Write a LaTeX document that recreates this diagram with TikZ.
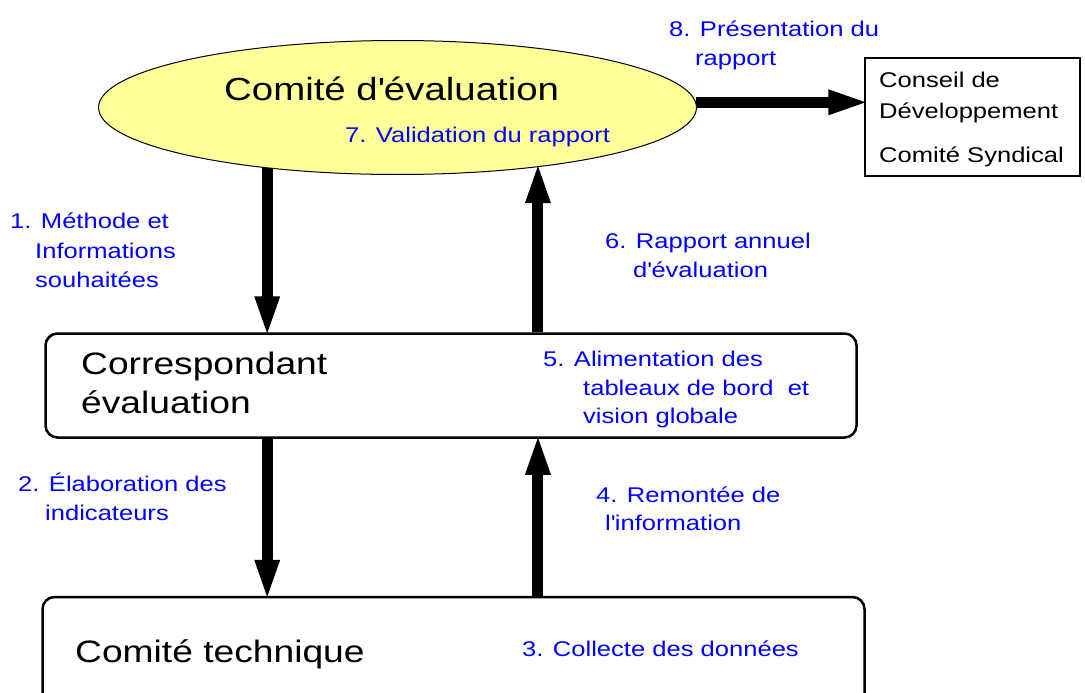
\documentclass[tikz,border=0pt]{standalone}
\usepackage{fontspec}
\setmainfont{Liberation Sans}[FakeStretch=1.2]
\usetikzlibrary{arrows.meta,shapes.geometric}
\definecolor{ellfill}{RGB}{255,255,153}
\definecolor{lblblue}{RGB}{0,0,255}
\tikzset{
  bigarrow/.style={line width=11pt,-{Triangle[length=42pt,width=22pt]},shorten >=-6pt},
  lbl/.style={anchor=base west,inner sep=0pt,text=lblblue,font=\fontsize{21.3}{25}\selectfont},
  boxtxt/.style={anchor=base west,inner sep=0pt,text=black,font=\fontsize{21.3}{25}\selectfont},
  bigtxt/.style={anchor=base west,inner sep=0pt,text=black,font=\fontsize{31}{36}\selectfont},
  roundbox/.style={draw=black,line width=2.5pt,rounded corners=12pt,rectangle,inner sep=0pt,fill=white},
}
\newcommand{\apos}{\textquotesingle}
\begin{document}
\begin{tikzpicture}[x=1pt,y=-1pt]
\useasboundingbox (0,0) rectangle (1085,693);
% shapes
\node[ellipse,draw=black,line width=1pt,fill=ellfill,minimum width=598pt,minimum height=134pt,inner sep=0pt] (ell) at (397.5,107.5) {};
\node[rectangle,draw=black,line width=1.2pt,minimum width=215pt,minimum height=118pt,inner sep=0pt] (cons) at (972.5,117) {};
\node[roundbox,minimum width=811pt,minimum height=104pt] (mid) at (451,385.5) {};
\node[roundbox,minimum width=822pt,minimum height=130pt] (bot) at (453.5,662) {};
% main texts
\node[bigtxt,font=\fontsize{32}{36}\selectfont] (title) at (224,100) {Comité d\apos évaluation};
\node[bigtxt] (corr1) at (81,374) {Correspondant};
\node[bigtxt] (corr2) at (81,413) {évaluation};
\node[bigtxt] (tech) at (75,662) {Comité technique};
\node[boxtxt] (cons1) at (879,88) {Conseil de};
\node[boxtxt] (cons2) at (879,118) {Développement};
\node[boxtxt] (cons3) at (879,162) {Comité Syndical};
% connectors
\draw[bigarrow] (ell.205) -- (ell.205 |- mid.north);
\draw[bigarrow] (ell.337.6 |- mid.north) -- (ell.337.6);
\draw[bigarrow] (ell.205 |- mid.south) -- (ell.205 |- bot.north);
\draw[bigarrow] (ell.337.6 |- bot.north) -- (ell.337.6 |- mid.south);
\draw[bigarrow] (ell.1) -- (ell.1 -| cons.west);
% blue labels
\node[lbl] (l7) at (345,142) {7. Validation du rapport};
\node[lbl] (l8a) at (669,37) {8. Présentation du};
\node[lbl] (l8b) at (695,66) {rapport};
\node[lbl] (l1a) at (10,228) {1. Méthode et};
\node[lbl] (l1b) at (35,258) {Informations};
\node[lbl] (l1c) at (35,287) {souhaitées};
\node[lbl] (l6a) at (605,248) {6. Rapport annuel};
\node[lbl] (l6b) at (633,277) {d\apos évaluation};
\node[lbl] (l5a) at (543,366) {5. Alimentation des};
\node[lbl] (l5b) at (583,395) {tableaux de bord\ \ et};
\node[lbl] (l5c) at (583,423) {vision globale};
\node[lbl] (l2a) at (18,491) {2. Élaboration des};
\node[lbl] (l2b) at (45,520) {indicateurs};
\node[lbl] (l4a) at (596,502) {4. Remontée de};
\node[lbl] (l4b) at (605,530) {l\apos information};
\node[lbl] (l3) at (522,656) {3. Collecte des données};
\end{tikzpicture}
\end{document}
